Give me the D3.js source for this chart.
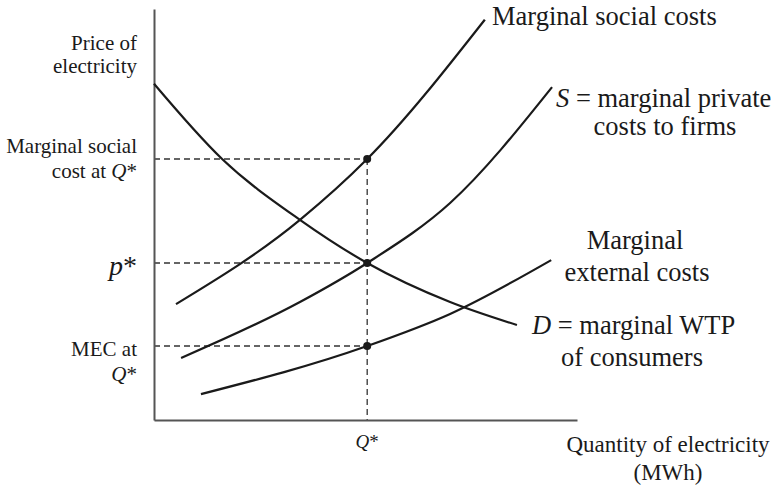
<!DOCTYPE html>
<html>
<head>
<meta charset="utf-8">
<script src="https://cdn.jsdelivr.net/npm/d3@7/dist/d3.min.js"></script>
<style>
  body { margin: 0; background: #fff; }
  svg { display: block; font-family: "Liberation Serif", "DejaVu Serif", serif; }
</style>
</head>
<body>
<div id="chart"></div>
<script>
// curves as [quantity, price] points (0-10 units)
const demand = [[0, 8.18], [1.61, 6.35], [3.45, 4.87], [5.04, 3.82], [7.0, 2.87], [8.58, 2.31]];
const supply = [[0.64, 1.51], [3.45, 2.87], [5.04, 3.82], [7.0, 5.28], [9.41, 8.10]];
const mec = [[1.11, 0.63], [5.04, 1.80], [7.0, 2.58], [9.39, 3.89]];
const msc = [[0.52, 2.82], [3.45, 4.87], [5.04, 6.35], [7.82, 9.74]];

const qStar = 5.04;
const priceMarks = [6.35, 3.82, 1.80]; // MSC at Q*, p*, MEC at Q*

const width = 777, height = 487;

const svg = d3.select("#chart").append("svg")
    .attr("width", width)
    .attr("height", height);

const x = d3.scaleLinear().domain([0, 10]).range([154, 577]);
const y = d3.scaleLinear().domain([0, 10]).range([420, 9]);

// dashed guides
svg.selectAll("line.hguide")
    .data(priceMarks)
    .enter().append("line")
    .attr("class", "hguide")
    .attr("x1", x(0))
    .attr("x2", x(qStar))
    .attr("y1", d => y(d))
    .attr("y2", d => y(d))
    .attr("stroke", "#333")
    .attr("stroke-width", 1.3)
    .attr("stroke-dasharray", "6,4");

svg.append("line")
    .attr("x1", x(qStar))
    .attr("x2", x(qStar))
    .attr("y1", y(d3.max(priceMarks)))
    .attr("y2", y(0))
    .attr("stroke", "#333")
    .attr("stroke-width", 1.3)
    .attr("stroke-dasharray", "6,4");

// Axes (no ticks, just the lines)
svg.append("g")
    .attr("transform", `translate(0,${y(0)})`)
    .call(d3.axisBottom(x).tickValues([]).tickSizeOuter(0));
svg.append("g")
    .attr("transform", `translate(${x(0)},0)`)
    .call(d3.axisLeft(y).tickValues([]).tickSizeOuter(0));
svg.selectAll(".domain").attr("stroke", "#555").attr("stroke-width", 2);

// Curves
const line = d3.line()
    .x(d => x(d[0]))
    .y(d => y(d[1]))
    .curve(d3.curveMonotoneX);

[demand, supply, mec, msc].forEach(c => {
    svg.append("path")
        .datum(c)
        .attr("d", line)
        .attr("fill", "none")
        .attr("stroke", "#1a1a1a")
        .attr("stroke-width", 2.2);
});

// Dots
svg.selectAll("circle")
    .data(priceMarks)
    .enter().append("circle")
    .attr("cx", x(qStar))
    .attr("cy", d => y(d))
    .attr("r", 4)
    .attr("fill", "#1a1a1a");

// Labels
function label(parts, px, py, anchor, size) {
    const t = svg.append("text")
        .attr("x", px)
        .attr("y", py)
        .attr("text-anchor", anchor)
        .style("font-size", size + "px")
        .attr("fill", "#1a1a1a");
    parts.forEach(p => {
        t.append("tspan")
            .style("font-style", p[1] ? "italic" : "normal")
            .text(p[0]);
    });
}

label([["Price of"]], 137, 50, "end", 21);
label([["electricity"]], 137, 73, "end", 21);
label([["Marginal social"]], 137, 153, "end", 21);
label([["cost at "], ["Q", true], ["*"]], 137, 178, "end", 21);
label([["p", true], ["*"]], 137, 275, "end", 28);
label([["MEC at"]], 137, 356, "end", 21);
label([["Q", true], ["*"]], 137, 381, "end", 21);
label([["Q", true], ["*"]], x(qStar), 448, "middle", 19);

label([["Quantity of electricity"]], 668, 452, "middle", 23);
label([["(MWh)"]], 668, 480, "middle", 23);

label([["Marginal social costs"]], 492, 25, "start", 26.5);
label([["S", true], [" = marginal private"]], 556, 107, "start", 26.5);
label([["costs to firms"]], 665, 135, "middle", 26.5);
label([["Marginal"]], 635, 249, "middle", 26.5);
label([["external costs"]], 637, 281, "middle", 26.5);
label([["D", true], [" = marginal WTP"]], 532, 334, "start", 26.5);
label([["of consumers"]], 632, 366, "middle", 26.5);
</script>
</body>
</html>
